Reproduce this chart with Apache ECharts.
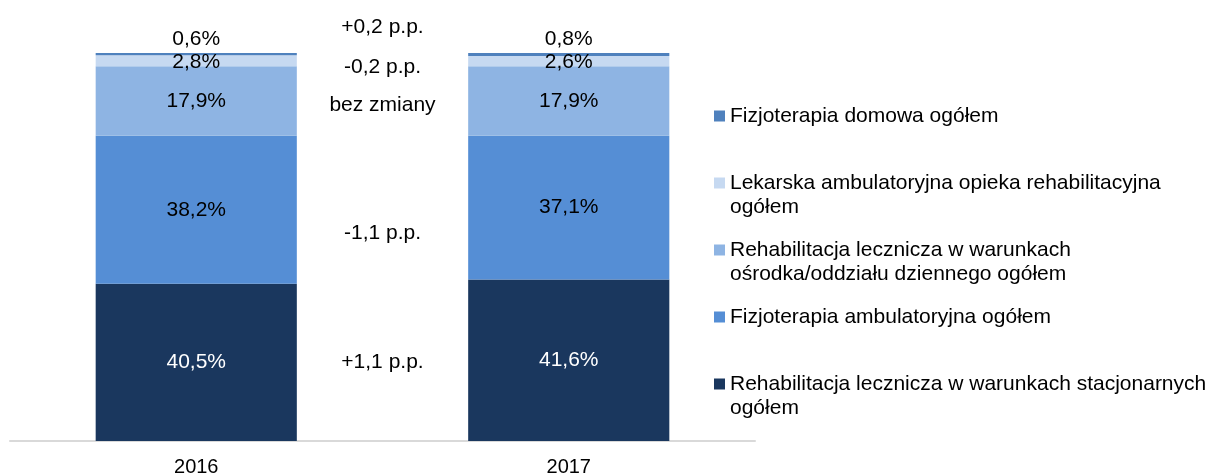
<!DOCTYPE html>
<html>
<head>
<meta charset="utf-8">
<script src="https://cdn.jsdelivr.net/npm/echarts@6/dist/echarts.min.js"></script>
<style>
  html, body { margin: 0; padding: 0; background: #fff; }
  #chart { width: 1217px; height: 475px; }
</style>
</head>
<body>
<div id="chart"></div>
<script>
const years = ['2016', '2017'];

// od dołu słupka do góry
const stacjonarna = [40.5, 41.6];
const ambulatoryjna = [38.2, 37.1];
const dzienna = [17.9, 17.9];
const lekarska = [2.8, 2.6];
const domowa = [0.6, 0.8];

const seriesNames = [
  'Rehabilitacja lecznicza w warunkach stacjonarnych ogółem',
  'Fizjoterapia ambulatoryjna ogółem',
  'Rehabilitacja lecznicza w warunkach ośrodka/oddziału dziennego ogółem',
  'Lekarska ambulatoryjna opieka rehabilitacyjna ogółem',
  'Fizjoterapia domowa ogółem'
];
const legendLabels = [
  'Rehabilitacja lecznicza w warunkach stacjonarnych\nogółem',
  'Fizjoterapia ambulatoryjna ogółem',
  'Rehabilitacja lecznicza w warunkach\nośrodka/oddziału dziennego ogółem',
  'Lekarska ambulatoryjna opieka rehabilitacyjna\nogółem',
  'Fizjoterapia domowa ogółem'
];
const changes = ['+1,1 p.p.', '-1,1 p.p.', 'bez zmiany', '-0,2 p.p.', '+0,2 p.p.'];

const colors = ['#1a375e', '#558ed5', '#8eb4e3', '#c6d9f1', '#4f81bd'];
const FONT = '"Liberation Sans", Arial, sans-serif';
const fmt = (v) => v.toFixed(1).replace('.', ',') + '%';

const chart = echarts.init(document.getElementById('chart'));

const values = [stacjonarna, ambulatoryjna, dzienna, lekarska, domowa];

// legenda: każda pozycja osobno, bo odstępy są nierówne
const legendTops = [348, 305, 214, 147, 104];
const legends = seriesNames.map((name, i) => {
  const twoLines = legendLabels[i].indexOf('\n') >= 0;
  return {
    data: [name],
    left: 714,
    top: legendTops[i],
    padding: 0,
    itemWidth: 11,
    itemHeight: 11,
    icon: 'rect',
    selectedMode: false,
    // pusta linia na górze, żeby znacznik stał przy pierwszym wierszu
    formatter: () => (twoLines ? '\n' : '') + legendLabels[i],
    textStyle: {
      fontFamily: FONT,
      fontSize: 21,
      color: '#000',
      lineHeight: 24
    }
  };
});

const series = values.map((data, i) => ({
  name: seriesNames[i],
  type: 'bar',
  stack: 'total',
  barWidth: '54%',
  data: data,
  itemStyle: { color: colors[i] },
  label: {
    show: true,
    position: i === 4 ? 'top' : 'inside',
    distance: 3,
    offset: i === 3 ? [0, 1] : [0, 0],
    formatter: (p) => fmt(p.value),
    fontFamily: FONT,
    fontSize: 21,
    color: i === 0 ? '#fff' : '#000'
  }
}));

chart.setOption({
  animation: false,
  color: colors,
  legend: legends,
  grid: { left: 10, right: 462, top: 53, bottom: 34, outerBoundsMode: 'none' },
  xAxis: {
    type: 'category',
    data: years,
    axisLine: { lineStyle: { color: '#d9d9d9', width: 2 } },
    axisTick: { show: false },
    axisLabel: { fontFamily: FONT, fontSize: 20, color: '#000', margin: 16 }
  },
  yAxis: {
    type: 'value',
    min: 0,
    max: 100,
    show: false
  },
  series: series
});

// opisy zmian między słupkami
const midX = (chart.convertToPixel({ xAxisIndex: 0 }, 0) + chart.convertToPixel({ xAxisIndex: 0 }, 1)) / 2;
const changeY = [362, 233, 105, 67, 27];
chart.setOption({
  graphic: changes.map((t, i) => ({
    type: 'text',
    x: midX,
    y: changeY[i],
    style: {
      text: t,
      font: '21px ' + FONT,
      fill: '#000',
      align: 'center',
      verticalAlign: 'middle'
    }
  }))
});
</script>
</body>
</html>
